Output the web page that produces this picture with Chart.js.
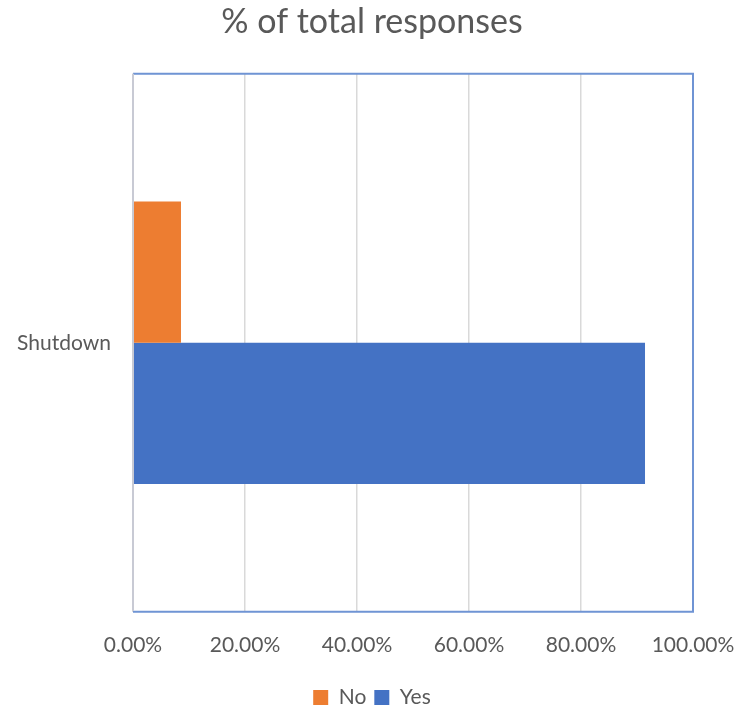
<!DOCTYPE html>
<html>
<head>
<meta charset="utf-8">
<script src="https://cdn.jsdelivr.net/npm/chart.js@4/dist/chart.umd.min.js"></script>
<style>
  html, body { margin: 0; padding: 0; background: #fff; }
  #wrap { width: 736px; height: 710px; }
</style>
</head>
<body>
<div id="wrap"><canvas id="myChart" width="736" height="710"></canvas></div>
<script>
const categories = ["Shutdown"];
const noValues = [8.57];
const yesValues = [91.43];
const xTicks = [0, 20, 40, 60, 80, 100];

const textColor = "#595959";
const fontFamily = "Lato, 'Open Sans', sans-serif";

// blue frame round the plot area (top, right, bottom), like the original
const plotFrame = {
  id: "plotFrame",
  afterDraw(chart) {
    const { ctx, chartArea: a } = chart;
    ctx.save();
    ctx.strokeStyle = "#6f94d4";
    ctx.lineWidth = 2;
    ctx.beginPath();
    ctx.moveTo(a.left, a.top);
    ctx.lineTo(a.right, a.top);
    ctx.lineTo(a.right, a.bottom);
    ctx.lineTo(a.left, a.bottom);
    ctx.stroke();
    // left axis line, grey
    ctx.strokeStyle = "#c8cad4";
    ctx.beginPath();
    ctx.moveTo(a.left, a.top);
    ctx.lineTo(a.left, a.bottom - 1);
    ctx.stroke();
    ctx.restore();
  }
};

const ctx = document.getElementById("myChart").getContext("2d");
new Chart(ctx, {
  type: "bar",
  data: {
    labels: categories,
    datasets: [
      { label: "No", data: noValues, backgroundColor: "#ed7d31" },
      { label: "Yes", data: yesValues, backgroundColor: "#4472c4" }
    ]
  },
  options: {
    indexAxis: "y",
    responsive: false,
    animation: false,
    layout: { padding: { left: 8, right: 0, top: 0, bottom: -8 } },
    datasets: {
      bar: { categoryPercentage: 0.525, barPercentage: 1.0 }
    },
    scales: {
      x: {
        min: 0,
        max: 100,
        afterBuildTicks(scale) {
          scale.ticks = xTicks.map(v => ({ value: v }));
        },
        afterFit(scale) { scale.paddingRight = 43; },
        ticks: {
          color: textColor,
          font: { family: fontFamily, size: 21 },
          padding: 21,
          maxRotation: 0,
          callback: v => v.toFixed(2) + "%"
        },
        grid: { color: "#d9d9d9", lineWidth: 1.5, drawTicks: false },
        border: { display: false }
      },
      y: {
        afterFit(scale) { scale.width = 125; },
        ticks: {
          color: textColor,
          font: { family: fontFamily, size: 21 },
          padding: 22
        },
        grid: { display: false, drawTicks: false },
        border: { display: false }
      }
    },
    plugins: {
      title: {
        display: true,
        text: "% of total responses",
        color: textColor,
        font: { family: fontFamily, size: 34, weight: "normal" },
        padding: { top: 2, bottom: 31 }
      },
      legend: {
        position: "bottom",
        labels: {
          color: textColor,
          font: { family: fontFamily, size: 21 },
          boxWidth: 15,
          boxHeight: 15,
          padding: 8
        }
      },
      tooltip: { enabled: false }
    }
  },
  plugins: [plotFrame]
});
</script>
</body>
</html>
